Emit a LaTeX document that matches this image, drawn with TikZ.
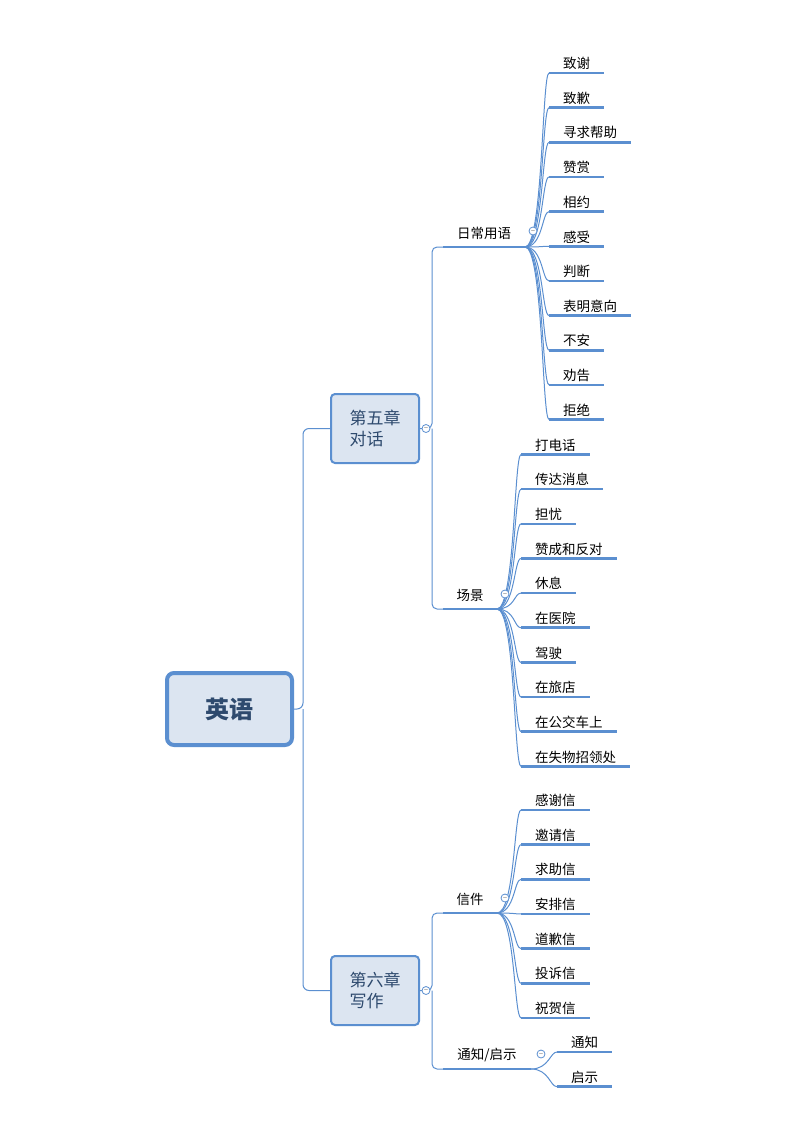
\documentclass[tikz,border=0pt]{standalone}
\usepackage{fontspec}
\setmainfont{Noto Sans CJK SC}
\definecolor{ln}{HTML}{5B8FD0}
\definecolor{bx}{HTML}{DCE5F1}
\definecolor{tx}{HTML}{2E4A6E}
\begin{document}
\begin{tikzpicture}[x=1pt,y=-1pt,
  conn/.style={draw=ln,line width=1pt},
  uline/.style={draw=ln,line width=2.6pt},
  leaf/.style={anchor=south west,inner xsep=14pt,inner ysep=3pt,font=\fontsize{13.5}{14}\selectfont},
  chap/.style={draw=ln,fill=bx,line width=2pt,rounded corners=4pt,minimum width=88pt,minimum height=69pt,align=left,font=\fontsize{17}{21}\selectfont,text=tx},
  coll/.style={circle,draw=ln,fill=white,line width=0.8pt,minimum size=8pt,inner sep=0pt}]
\useasboundingbox (0,0) rectangle (800,1132);
% root
\node[draw=ln,fill=bx,line width=4pt,rounded corners=7pt,minimum width=125pt,minimum height=72pt,font=\fontsize{24}{28}\selectfont\bfseries,text=tx] (root) at (229.5,709) {英语};
\node[chap] (c5) at (375,428.5) {第五章\\对话};
\node[chap] (c6) at (375,990.5) {第六章\\写作};
\draw[conn,rounded corners=6pt] (root.east) -- (303,709) |- (c5.west);
\draw[conn,rounded corners=6pt] (303,709) |- (c6.west);
% level-2
\newcommand{\sub}[5]{% name, x-left, x-right, y-underline, text
  \node[font=\fontsize{13.5}{14}\selectfont,anchor=south] (#1) at ({(#2+#3)/2},#4-4) {#5};
  \draw[uline] (#2,#4) -- (#3,#4);
  \coordinate (#1e) at (#3,#4);
  \coordinate (#1s) at (#2,#4);}
\sub{ry}{443}{525}{247}{日常用语}
\sub{cj}{443}{497}{609}{场景}
\sub{xj}{443}{497}{913}{信件}
\sub{tz}{443}{531}{1069}{通知/启示}
\draw[conn,rounded corners=5pt] (c5.east) -- (432,428.5) |- (rys);
\draw[conn,rounded corners=5pt] (432,428.5) |- (cjs);
\draw[conn,rounded corners=5pt] (c6.east) -- (432,990.5) |- (xjs);
\draw[conn,rounded corners=5pt] (432,990.5) |- (tzs);
% leaves
\newcommand{\leafs}[4]{% parent, x, y0, list
  \foreach \t [count=\i] in {#4} {
    \pgfmathsetmacro{\yy}{#3+(\i-1)*34.65}
    \node[leaf] (#1l\i) at (#2,\yy) {\t};
    \draw[uline] (#1l\i.south west) -- (#1l\i.south east);
    \draw[conn] (#1e) .. controls ($(#1e)+(18,0)$) and (#2-7,\yy) .. (#1l\i.south west);
  }}
\usetikzlibrary{calc}
\leafs{ry}{549}{73}{致谢,致歉,寻求帮助,赞赏,相约,感受,判断,表明意向,不安,劝告,拒绝}
\leafs{cj}{521}{454.5}{打电话,传达消息,担忧,赞成和反对,休息,在医院,驾驶,在旅店,在公交车上,在失物招领处}
\leafs{xj}{521}{810}{感谢信,邀请信,求助信,安排信,道歉信,投诉信,祝贺信}
\leafs{tz}{557}{1052}{通知,启示}
% collapse markers
\node[coll] at (426,428.5) {\tiny$-$};
\node[coll] at (426,990.5) {\tiny$-$};
\node[coll] at (533,231) {\tiny$-$};
\node[coll] at (505,594) {\tiny$-$};
\node[coll] at (505,898) {\tiny$-$};
\node[coll] at (541,1054) {\tiny$-$};
\end{tikzpicture}
\end{document}
